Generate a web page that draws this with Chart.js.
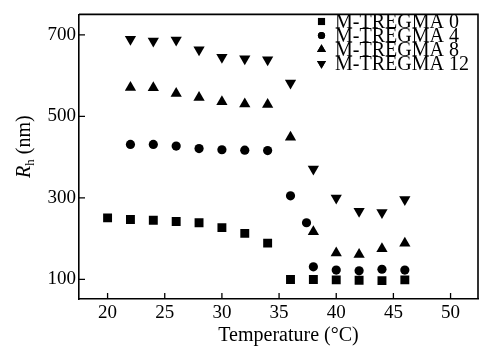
<!DOCTYPE html>
<html><head><meta charset="utf-8">
<script src="https://cdn.jsdelivr.net/npm/chart.js@4/dist/chart.umd.min.js"></script>
<style>html,body{margin:0;padding:0;background:#fff}#wrap{width:487px;height:354px;position:relative}</style>
</head><body><div id="wrap"><canvas id="c" width="487" height="354"></canvas></div>
<script>
const seriesNames = ['M-TREGMA 0', 'M-TREGMA 4', 'M-TREGMA 8', 'M-TREGMA 12'];
const tempSq = [20, 22, 24, 26, 28, 30, 32, 34, 36, 38, 40, 42, 44, 46];
const rhSq = [251, 247, 245, 242, 239, 227, 213, 189, 100, 100, 99, 98, 97, 99];
const tempCi = [22, 24, 26, 28, 30, 32, 34, 36, 37.4, 38, 40, 42, 44, 46];
const rhCi = [431, 431, 427, 421, 418, 417, 416, 305, 239, 131, 123, 121, 125, 123];
const tempTri = [22, 24, 26, 28, 30, 32, 34, 36, 38, 40, 42, 44, 46];
const rhTriUp = [571, 570, 556, 546, 536, 530, 529, 449, 217, 165, 161, 175, 189];
const rhTriDown = [689, 685, 687, 663, 645, 641, 639, 582, 371, 300, 267, 264, 296];
const xTicks = [20, 25, 30, 35, 40, 45, 50];
const yTicks = [100, 300, 500, 700];
const xTitle = 'Temperature (°C)';

const pts = (xs, ys) => xs.map((x, i) => ({x: x, y: ys[i]}));
const SERIF = '"Liberation Serif", "DejaVu Serif", serif';

const styles = [
  {pointStyle: 'rect', radius: 6.3, rotation: 0, lr: 5},
  {pointStyle: 'circle', radius: 4.6, rotation: 0, lr: 3.6},
  {pointStyle: 'triangle', radius: 6.5, rotation: 0, lr: 5.2},
  {pointStyle: 'triangle', radius: 6.5, rotation: 180, lr: 5.2}
];
const dataArr = [pts(tempSq, rhSq), pts(tempCi, rhCi), pts(tempTri, rhTriUp), pts(tempTri, rhTriDown)];

const datasets = dataArr.map((d, i) => ({
  label: seriesNames[i],
  data: d,
  pointStyle: styles[i].pointStyle,
  pointRadius: styles[i].radius,
  pointRotation: styles[i].rotation,
  backgroundColor: '#000',
  borderColor: '#000',
  borderWidth: 0,
  showLine: false
}));

function drawMarker(ctx, st, r, x, y) {
  if (Chart.helpers && Chart.helpers.drawPoint) {
    ctx.fillStyle = '#000'; ctx.strokeStyle = '#000'; ctx.lineWidth = 0.01;
    Chart.helpers.drawPoint(ctx, {pointStyle: st.pointStyle, radius: r, rotation: st.rotation, borderWidth: 0}, x, y);
    ctx.fill();
  }
}

const decor = {
  id: 'decor',
  afterDraw(chart) {
    const ctx = chart.ctx;
    const a = chart.chartArea;
    const xs = chart.scales.x, ys = chart.scales.y;
    ctx.save();
    ctx.strokeStyle = '#000';
    ctx.lineWidth = 1.6;
    ctx.beginPath();
    ctx.moveTo(a.left, a.top); ctx.lineTo(a.right, a.top); ctx.lineTo(a.right, a.bottom);
    ctx.stroke();
    ctx.lineWidth = 1.3;
    ctx.beginPath();
    xTicks.forEach(v => { const px = xs.getPixelForValue(v); ctx.moveTo(px, a.bottom); ctx.lineTo(px, a.bottom - 6); });
    yTicks.forEach(v => { const py = ys.getPixelForValue(v); ctx.moveTo(a.left, py); ctx.lineTo(a.left + 6, py); });
    ctx.stroke();

    // x title
    ctx.fillStyle = '#000';
    ctx.font = '20px ' + SERIF;
    ctx.textAlign = 'center';
    ctx.textBaseline = 'alphabetic';
    ctx.fillText(xTitle, 288.5, 341);

    // y title: R_h (nm)
    ctx.save();
    ctx.translate(30, 178);
    ctx.rotate(-Math.PI / 2);
    ctx.textAlign = 'left';
    ctx.font = 'italic 20px ' + SERIF;
    ctx.fillText('R', 0, 0);
    let w = ctx.measureText('R').width;
    ctx.font = '13px ' + SERIF;
    ctx.fillText('h', w, 4);
    w += ctx.measureText('h').width;
    ctx.font = '20px ' + SERIF;
    ctx.fillText(' (nm)', w, 0);
    ctx.restore();

    // legend
    ctx.font = '20px ' + SERIF;
    ctx.textAlign = 'left';
    ctx.textBaseline = 'alphabetic';
    seriesNames.forEach((n, i) => {
      const by = 28 + i * 14;
      drawMarker(ctx, styles[i], styles[i].lr, 321.5, by - 6.5);
      ctx.fillStyle = '#000';
      ctx.fillText(n, 335, by);
    });
    ctx.restore();
  }
};

new Chart(document.getElementById('c'), {
  type: 'scatter',
  data: {datasets: datasets},
  options: {
    responsive: false,
    animation: false,
    devicePixelRatio: 1,
    layout: {padding: {top: 7, right: 9, left: 0, bottom: 0}},
    plugins: {legend: {display: false}, tooltip: {enabled: false}},
    scales: {
      x: {
        type: 'linear', min: 17.5, max: 52.4,
        afterBuildTicks: s => { s.ticks = xTicks.map(v => ({value: v})); },
        afterFit: s => { s.height = 55; },
        grid: {display: false, drawTicks: false},
        border: {display: true, color: '#000', width: 1.6},
        ticks: {font: {family: SERIF, size: 19}, color: '#000', padding: 3, maxRotation: 0, autoSkip: false}
      },
      y: {
        type: 'linear', min: 52, max: 750,
        afterBuildTicks: s => { s.ticks = yTicks.map(v => ({value: v})); },
        afterFit: s => { s.width = 79; },
        grid: {display: false, drawTicks: false},
        border: {display: true, color: '#000', width: 1.6},
        ticks: {font: {family: SERIF, size: 19}, color: '#000', padding: 3, autoSkip: false}
      }
    }
  },
  plugins: [decor]
});
</script></body></html>
